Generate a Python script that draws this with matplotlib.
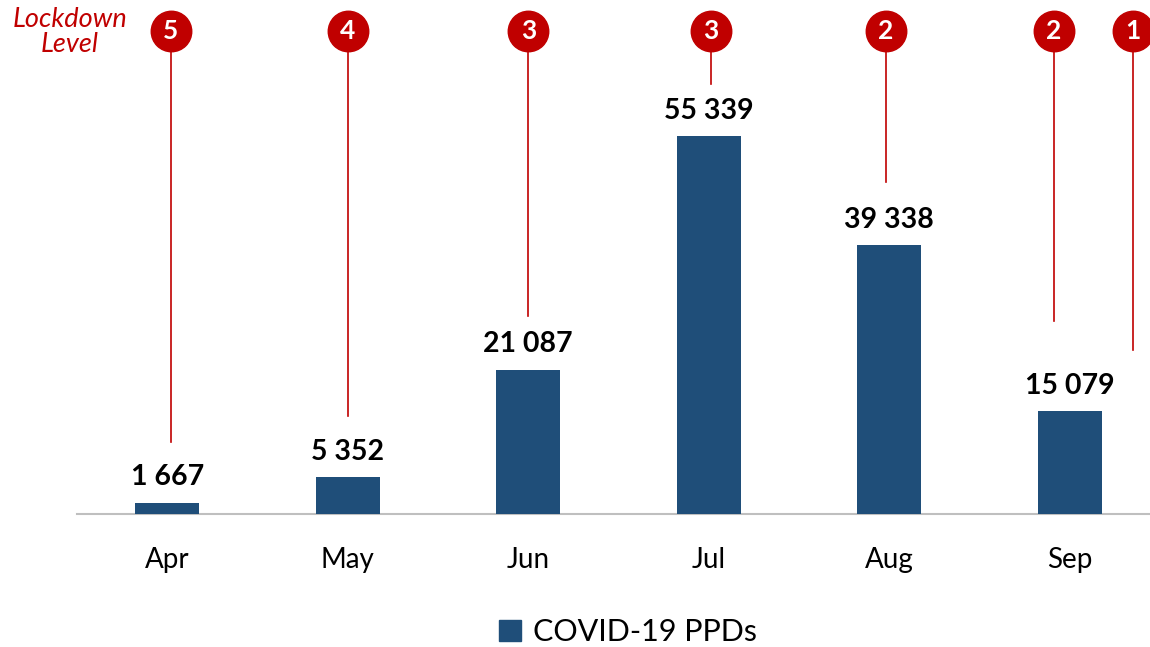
import matplotlib.pyplot as plt
import matplotlib.patches as mpatches

# data
months = ['Apr', 'May', 'Jun', 'Jul', 'Aug', 'Sep']
ppds = [1667, 5352, 21087, 55339, 39338, 15079]
value_labels = ['1 667', '5 352', '21 087', '55 339', '39 338', '15 079']

# lockdown level markers: position on category axis, level, where the stem ends
level_pos = [0.02, 1.0, 2.0, 3.01, 3.98, 4.91, 5.35]
levels = ['5', '4', '3', '3', '2', '2', '1']
stem_end = [10500, 14400, 29000, 63000, 48600, 28300, 24000]

bar_color = '#1F4E79'
red = '#C00000'

plt.rcParams['font.family'] = ['Lato', 'DejaVu Sans']

fig = plt.figure(figsize=(11.5, 6.47), dpi=100)
ax = fig.add_axes([77 / 1150, 1 - 514 / 647, 1 - 77 / 1150, 514 / 647])
ax.set_xlim(-0.5, 5.5 - 10 / 180.5)
ax.set_ylim(0, 75250)

x = range(len(months))
bars = ax.bar(x, ppds, width=0.355, color=bar_color, label='COVID-19 PPDs', zorder=3)

for xi, v, lab in zip(x, ppds, value_labels):
    ax.annotate(lab, (xi, v), xytext=(0, 9), textcoords='offset points',
                ha='center', va='bottom', fontsize=20.5, fontweight='bold', color='black')

# lockdown stems and circles
circle_y = 70700
for p, lv, end in zip(level_pos, levels, stem_end):
    ax.plot([p, p], [end, circle_y], color=red, lw=1.2, zorder=2, clip_on=False)
    ax.scatter([p], [circle_y], s=850, color=red, zorder=4, clip_on=False)
    ax.text(p, circle_y, lv, color='white', fontsize=19, fontweight='bold',
            ha='center', va='center', zorder=5)

fig.text(70 / 1150, 1 - 32 / 647, 'Lockdown\nLevel', color=red, style='italic',
         fontsize=19.5, ha='center', va='center', linespacing=1.0)

ax.set_xticks(list(x))
ax.set_xticklabels(months, fontsize=20)
ax.tick_params(axis='x', length=0, pad=24)
ax.set_yticks([])
for s in ['top', 'right', 'left']:
    ax.spines[s].set_visible(False)
ax.spines['bottom'].set_color('#BFBFBF')
ax.spines['bottom'].set_linewidth(1.5)

fig.legend(handles=[mpatches.Patch(color=bar_color, label='COVID-19 PPDs')],
           loc='center', bbox_to_anchor=(628 / 1150, 1 - 632 / 647), frameon=False,
           fontsize=22, handlelength=0.7, handleheight=0.7, handletextpad=0.4)

fig.savefig('out.png', dpi=100, facecolor='white')
